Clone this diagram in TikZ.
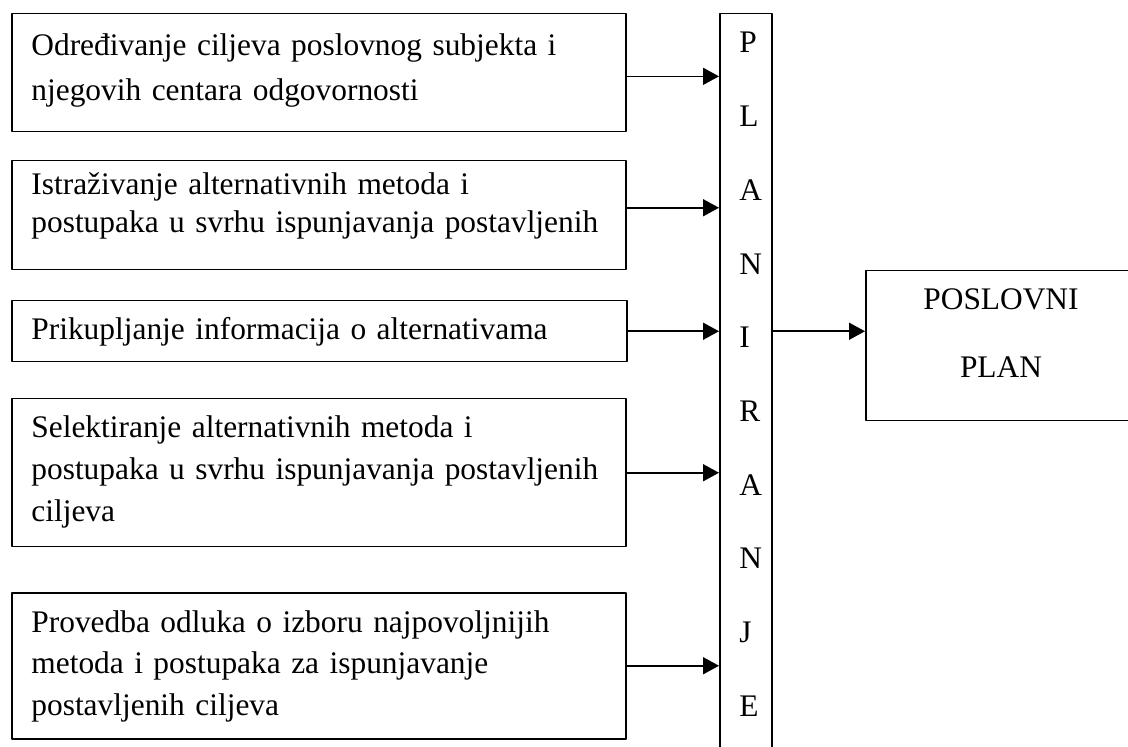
\documentclass[tikz,border=0pt]{standalone}
\usepackage{fontspec}
\setmainfont{Liberation Serif}
\usetikzlibrary{arrows.meta}
\begin{document}
\begin{tikzpicture}[x=0.5pt, y=-0.5pt, line join=round, font=\fontsize{15.7}{20}\selectfont,
  >={Triangle[length=8pt,width=8.5pt]},
  box/.style={draw, line width=0.75pt, inner sep=0pt, anchor=north west},
  txt/.style={inner sep=0pt, anchor=base west, text width=300pt, align=left},
  arr/.style={->, line width=0.8pt}]
\useasboundingbox (0,0) rectangle (1128,747);
\clip (0,0) rectangle (1128,747);
% boxes on the left
\node (b1) [box, minimum width=307pt, minimum height=59pt] at (11,13) {};
\node (b2) [box, minimum width=307pt, minimum height=54.5pt] at (11,160) {};
\node (b3) [box, minimum width=307.5pt, minimum height=30.5pt] at (11,300) {};
\node (b4) [box, minimum width=307pt, minimum height=74pt] at (11,398) {};
\node (b5) [box, minimum width=307pt, minimum height=73pt] at (11,592) {};
\node (t1) [txt, font=\fontsize{15.7}{22.5}\selectfont] at (31,56) {Određivanje ciljeva poslovnog subjekta i\\njegovih centara odgovornosti};
\node (t2) [txt, font=\fontsize{15.7}{19}\selectfont] at (31,195) {Istraživanje alternativnih metoda i\\postupaka u svrhu ispunjavanja postavljenih};
\node (t3) [txt] at (31,340) {Prikupljanje informacija o alternativama};
\node (t4) [txt, font=\fontsize{15.7}{21}\selectfont] at (31,438) {Selektiranje alternativnih metoda i\\postupaka u svrhu ispunjavanja postavljenih\\ciljeva};
\node (t5) [txt, font=\fontsize{15.7}{20.75}\selectfont] at (31,632) {Provedba odluka o izboru najpovoljnijih\\metoda i postupaka za ispunjavanje\\postavljenih ciljeva};
% vertical box
\node (plan) [box, minimum width=26pt, minimum height=400pt] at (719,13) {};
\foreach \l [count=\i from 0] in {P,L,A,N,I,R,A,N,J,E}
  \node (l\i) [inner sep=0pt, anchor=base west] at (739,{53+73.7*\i}) {\l};
% result
\node (pp) [box, minimum width=136pt, minimum height=75pt] at (865,270) {};
\node (ppt) [inner sep=0pt, anchor=base, text width=120pt, align=center,
  font=\fontsize{15.7}{34}\selectfont] at (1001,310) {POSLOVNI\\PLAN};
% arrows
\draw[arr] ([yshift=-1.8pt]b1.east) -- ([yshift=-1.8pt]b1.east -| plan.west);
\draw[arr] ([yshift=3.75pt]b2.east) -- ([yshift=3.75pt]b2.east -| plan.west);
\draw[arr] (b3.east) -- (b3.east -| plan.west);
\draw[arr] (b4.east) -- (b4.east -| plan.west);
\draw[arr] (b5.east) -- (b5.east -| plan.west);
\draw[arr] (plan.east |- b3.east) -- (pp.west |- b3.east);
\end{tikzpicture}
\end{document}
